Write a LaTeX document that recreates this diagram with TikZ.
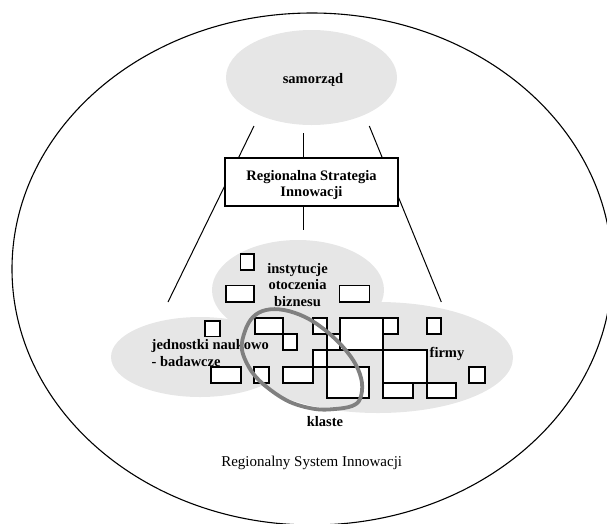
\documentclass[tikz,border=0pt]{standalone}
\usepackage{fontspec}
\setmainfont{Liberation Serif}
\usetikzlibrary{shapes.geometric}
\definecolor{blobgray}{RGB}{230,230,230}
\definecolor{loopgray}{RGB}{128,128,128}
\newcommand\cell[5]{\node[cellbox, minimum width=#4pt, minimum height=#5pt] (#1) at (#2,#3) {};}
\begin{document}
\begin{tikzpicture}[x=1pt,y=-1pt,
  lbl/.style={font=\fontsize{14.5}{16.5}\selectfont\bfseries, align=center, inner sep=0pt},
  plainlbl/.style={font=\fontsize{15}{17}\selectfont, align=center, inner sep=0pt},
  blob/.style={ellipse, fill=blobgray, draw=none, inner sep=0pt},
  cellbox/.style={draw=black, line width=1.7pt, fill=white, anchor=north west, inner sep=0pt, outer sep=0pt},
  conn/.style={draw=black, line width=1pt},
]
\useasboundingbox (0,0) rectangle (607,523);
\clip (0,0) rectangle (607,523);
% outer region
\node[ellipse, draw=black, line width=1.1pt, minimum width=600pt, minimum height=512pt, inner sep=0pt] (rsys) at (312,269) {};
% grey areas
\node[blob, minimum width=171pt, minimum height=95pt] (sam) at (311.5,77.5) {};
\node[blob, minimum width=172pt, minimum height=100pt] (inst) at (298,290) {};
\node[blob, minimum width=178pt, minimum height=80pt] (jedn) at (200,357) {};
\node[blob, minimum width=270pt, minimum height=111pt] (firm) at (378,357.5) {};
% connectors
\coordinate (lt) at (254,126);
\coordinate (lb) at (168,302);
\coordinate (rt) at (369.3,126);
\coordinate (rb) at (441.3,302);
\coordinate (vt) at (303,133);
\coordinate (vb) at (303,230);
\draw[conn] (lt) -- (lb);
\draw[conn] (rt) -- (rb);
% strategy box
\node[draw=black, line width=1.4pt, fill=white, minimum width=173pt, minimum height=48pt, inner sep=0pt] (rsi) at (311.5,182) {};
\node[lbl] (trsi) at (311.5,185) {Regionalna Strategia\\Innowacji};
\draw[conn] (vt) -- (vt |- rsi.north);
\draw[conn] (rsi.south -| vb) -- (vb);
% cells
\cell{i1}{240.5}{254}{13.5}{16}
\cell{i2}{226}{285.5}{28}{16.3}
\cell{i3}{339.5}{285.5}{30}{16.3}
\cell{j1}{205}{321}{15}{15.5}
\cell{j2}{211}{366.7}{29.7}{16}
\cell{a}{255}{318.3}{28.3}{15.7}
\cell{a2}{283.3}{334}{14}{16}
\cell{s1}{312.7}{318.3}{14}{15.7}
\cell{s2}{326.7}{334}{13.3}{16}
\cell{big}{340}{318.3}{43.3}{31.7}
\cell{s3}{383.3}{318.3}{15}{15.7}
\cell{s4}{426.7}{318.3}{14.3}{15.7}
\cell{s5}{312.7}{350}{14}{16.7}
\cell{c}{254}{366.7}{15}{16}
\cell{b}{283.3}{366.7}{29.4}{16}
\cell{d}{326.7}{366.7}{42.6}{31.6}
\cell{e}{383.3}{350}{43.4}{32.7}
\cell{f1}{383.3}{382.7}{29.4}{15.6}
\cell{f2}{426.7}{382.7}{29.3}{15.6}
\cell{s6}{469}{366.7}{16}{16}
% labels
\node[lbl] (tsam) at (313,80) {samorząd};
\node[lbl] (tinst) at (297.5,285) {instytucje\\otoczenia\\biznesu};
\node[lbl, align=left, anchor=west] (tjedn) at (151.5,353) {jednostki naukowo\\- badawcze};
\node[lbl] (tfirm) at (447,354) {firmy};
% cluster loop
\draw[loopgray, line width=3.8pt] plot[smooth cycle, tension=0.6] coordinates {
  (242,350) (245,331) (253,317) (266,310) (284,310) (305,317) (325,330)
  (343,347) (356,365) (362,383) (360,399) (352,406) (335,409) (315,409)
  (290,402) (268,388) (252,372)};
\node[lbl] (tklas) at (325,421.7) {klaste};
\node[plainlbl] (trsys) at (311.7,463.3) {Regionalny System Innowacji};
\end{tikzpicture}
\end{document}
